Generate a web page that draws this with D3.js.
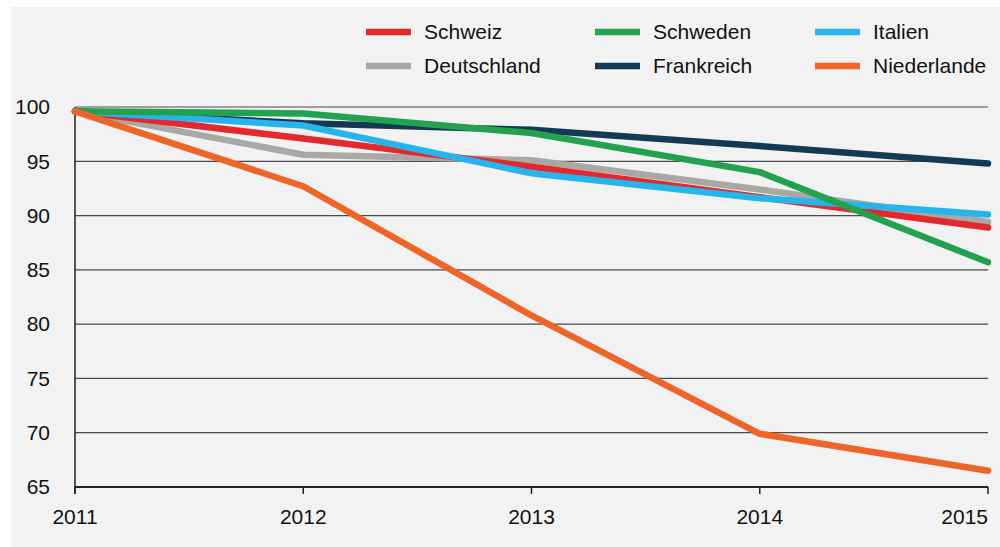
<!DOCTYPE html>
<html>
<head>
<meta charset="utf-8">
<script src="https://cdn.jsdelivr.net/npm/d3@7"></script>
<style>
  html, body { margin: 0; padding: 0; background: #fff; }
  svg { display: block; font-family: "Liberation Sans", Arial, Helvetica, sans-serif; }
</style>
</head>
<body>
<div id="chart"></div>
<script>
const width = 1000;
const height = 547;
const margin = { top: 107, right: 12, bottom: 60, left: 75 };

// data, index 2011 = 100
const years = [2011, 2012, 2013, 2014, 2015];
const yTicks = [65, 70, 75, 80, 85, 90, 95, 100];

const schweiz = [99.6, 97.1, 94.5, 91.7, 88.9];
const schweden = [99.6, 99.4, 97.6, 94.0, 85.7];
const italien = [99.6, 98.3, 93.9, 91.6, 90.1];
const deutschland = [99.6, 95.6, 95.1, 92.4, 89.4];
const frankreich = [99.6, 98.5, 97.9, 96.4, 94.8];
const niederlande = [99.6, 92.7, 80.8, 69.9, 66.5];

// legend order (rows of three)
const legendItems = [
  { name: "Schweiz", color: "#e3292e" },
  { name: "Schweden", color: "#22a14f" },
  { name: "Italien", color: "#26b5ea" },
  { name: "Deutschland", color: "#a8a8a4" },
  { name: "Frankreich", color: "#133a53" },
  { name: "Niederlande", color: "#ed6528" },
];

// draw order (last on top)
const series = [
  { name: "Deutschland", values: deutschland, color: "#a8a8a4" },
  { name: "Schweiz", values: schweiz, color: "#e3292e" },
  { name: "Frankreich", values: frankreich, color: "#133a53" },
  { name: "Italien", values: italien, color: "#26b5ea" },
  { name: "Schweden", values: schweden, color: "#22a14f" },
  { name: "Niederlande", values: niederlande, color: "#ed6528" },
];

const svg = d3.select("#chart")
  .append("svg")
  .attr("width", width)
  .attr("height", height);

// panel background
svg.append("rect")
  .attr("x", 11).attr("y", 7)
  .attr("width", width - 11).attr("height", height - 7)
  .attr("fill", "#f2f2f2");

const x = d3.scaleLinear()
  .domain([2011, 2015])
  .range([margin.left, width - margin.right]);

const y = d3.scaleLinear()
  .domain([65, 100])
  .range([height - margin.bottom, margin.top]);

// gridlines
svg.append("g")
  .selectAll("line")
  .data(yTicks.filter(d => d !== 65))
  .join("line")
  .attr("x1", margin.left)
  .attr("x2", width - margin.right)
  .attr("y1", d => y(d))
  .attr("y2", d => y(d))
  .attr("stroke", "#4a4a4a")
  .attr("stroke-width", 1.2);

// y labels
svg.append("g")
  .selectAll("text")
  .data(yTicks)
  .join("text")
  .attr("x", 50)
  .attr("y", d => y(d))
  .attr("dy", "0.35em")
  .attr("text-anchor", "end")
  .attr("font-size", 21)
  .attr("fill", "#111")
  .text(d => d);

// x axis
const xAxis = svg.append("g")
  .attr("transform", `translate(0, ${y(65)})`);
xAxis.append("line")
  .attr("x1", margin.left).attr("x2", width - margin.right)
  .attr("stroke", "#222").attr("stroke-width", 2);
xAxis.selectAll(".tick")
  .data(years)
  .join("line")
  .attr("x1", d => x(d)).attr("x2", d => x(d))
  .attr("y1", 0).attr("y2", 7)
  .attr("stroke", "#222").attr("stroke-width", 1.5);
xAxis.selectAll("text")
  .data(years)
  .join("text")
  .attr("x", d => x(d))
  .attr("y", 37)
  .attr("text-anchor", (d, i) => i === years.length - 1 ? "end" : "middle")
  .attr("font-size", 21)
  .attr("fill", "#111")
  .text(d => d);

// left axis line
svg.append("line")
  .attr("x1", margin.left).attr("x2", margin.left)
  .attr("y1", y(100)).attr("y2", y(65) + 7)
  .attr("stroke", "#222").attr("stroke-width", 1.5);

// lines
const line = d3.line()
  .x((d, i) => x(years[i]))
  .y(d => y(d));

svg.append("g")
  .selectAll("path")
  .data(series)
  .join("path")
  .attr("d", d => line(d.values))
  .attr("fill", "none")
  .attr("stroke", d => d.color)
  .attr("stroke-width", 6.5)
  .attr("stroke-linecap", "round")
  .attr("stroke-linejoin", "round");

// legend
const colX = [366, 595, 815];
const rowY = [32, 66];
const legend = svg.append("g")
  .selectAll("g")
  .data(legendItems)
  .join("g")
  .attr("transform", (d, i) => `translate(${colX[i % 3]}, ${rowY[Math.floor(i / 3)]})`);

legend.append("line")
  .attr("x1", 0).attr("x2", 45)
  .attr("stroke", d => d.color)
  .attr("stroke-width", 6.5);

legend.append("text")
  .attr("x", 58)
  .attr("dy", "0.35em")
  .attr("font-size", 21)
  .attr("fill", "#111")
  .text(d => d.name);
</script>
</body>
</html>
